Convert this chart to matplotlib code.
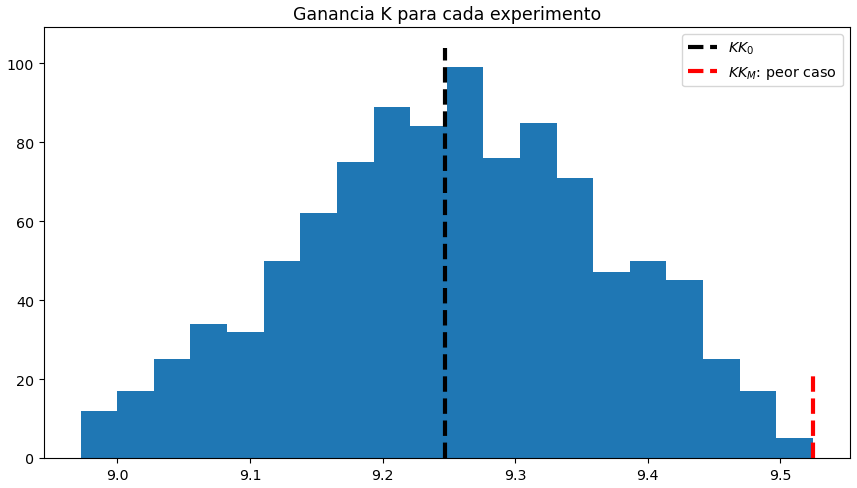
import numpy as np
import matplotlib
matplotlib.use('Agg')
import matplotlib.pyplot as plt

# Histograma de la ganancia K (20 bins)
bin_min = 8.9723
bin_max = 9.5245
counts = [12, 17, 25, 34, 32, 50, 62, 75, 89, 84,
          99, 76, 85, 71, 47, 50, 45, 25, 17, 5]

# Lineas verticales de referencia
kk0 = 9.2474
kk0_height = 104
kkm = 9.5249
kkm_height = 21

edges = np.linspace(bin_min, bin_max, len(counts) + 1)

fig = plt.figure(figsize=(8.57, 4.89), dpi=100)
ax = fig.add_axes([44 / 857, 30 / 489, 806 / 857, 431 / 489])

ax.stairs(counts, edges, fill=True, color='#1f77b4')
ax.plot([kk0, kk0], [0, kk0_height], color='black', linestyle='--', linewidth=3,
        label=r'$KK_0$')
ax.plot([kkm, kkm], [0, kkm_height], color='red', linestyle='--', linewidth=3,
        label=r'$KK_M$: peor caso')

ax.set_ylim(bottom=0)
ax.set_xticks([9.0, 9.1, 9.2, 9.3, 9.4, 9.5])
ax.set_yticks([0, 20, 40, 60, 80, 100])
ax.tick_params(labelsize=10.3)
ax.set_title('Ganancia K para cada experimento', fontsize=12.5)
ax.legend(loc='upper right', fontsize=10.4)

fig.savefig('out.png', dpi=100)
